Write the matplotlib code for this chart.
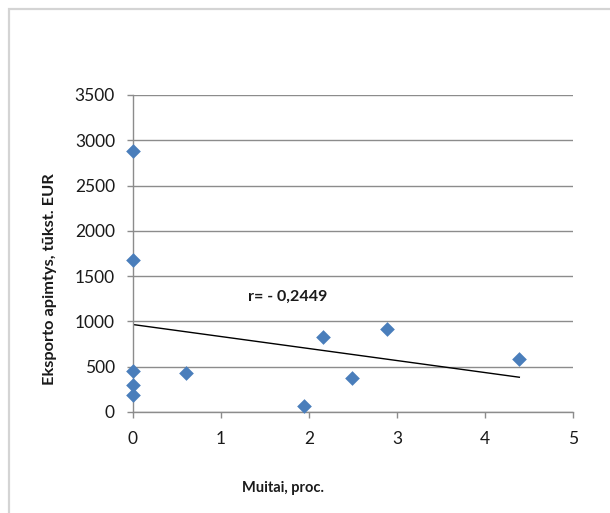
import matplotlib
matplotlib.use("Agg")
import matplotlib.pyplot as plt
from matplotlib.patches import Rectangle
import numpy as np

muitai = [0, 0, 0, 0, 0, 0.6, 1.94, 2.16, 2.49, 2.89, 4.39]
eksportas = [2880, 1680, 450, 300, 190, 433, 70, 829, 373, 914, 585]
x_ticks = [0, 1, 2, 3, 4, 5]
y_ticks = [0, 500, 1000, 1500, 2000, 2500, 3000, 3500]
r_label = "r= - 0,2449"

plt.rcParams['font.family'] = ['Lato', 'DejaVu Sans']
W, H = 610, 513
fig = plt.figure(figsize=(W / 100, H / 100), dpi=100)
fig.patch.set_facecolor('white')

# outer chart border
fig.patches.append(Rectangle((9 / W, -0.05), 1.2, 1 - 9 / H + 0.05, transform=fig.transFigure,
                             fill=False, edgecolor='#d4d4d4', linewidth=1.6, zorder=0))

ax = fig.add_axes([133 / W, 1 - 412 / H, (573 - 133) / W, (412 - 95) / H])
ax.set_xlim(0, 5)
ax.set_ylim(0, 3500)
ax.set_xticks(x_ticks)
ax.set_yticks(y_ticks)
ax.set_yticklabels([str(v) for v in y_ticks])
ax.grid(axis='y', color='#8c8c8c', linewidth=1.0)
ax.set_axisbelow(True)
for s in ['top', 'right']:
    ax.spines[s].set_visible(False)
for s in ['left', 'bottom']:
    ax.spines[s].set_color('#8c8c8c')
    ax.spines[s].set_linewidth(1.0)
ax.tick_params(axis='both', colors='#8c8c8c', length=4, width=1, labelsize=12.5,
               labelcolor='#1a1a1a', direction='out')
ax.tick_params(axis='x', pad=10)
ax.tick_params(axis='y', pad=9)

ax.scatter(muitai, eksportas, marker='D', s=56, color='#4a7ebb', zorder=3, clip_on=False,
           linewidths=0)

coef = np.polyfit(muitai, eksportas, 1)
xl = np.array([min(muitai), max(muitai)])
ax.plot(xl, np.polyval(coef, xl), color='black', linewidth=1.0, zorder=2)

ax.text(1.31, 1270, r_label, fontsize=11.5, fontweight='bold', ha='left', va='center', color='#1a1a1a')

fig.text(283 / W, 1 - 488 / H, "Muitai, proc.", fontsize=10.5, fontweight='bold', ha='center', va='center',
         color='#1a1a1a')
fig.text(50 / W, 1 - 279 / H, "Eksporto apimtys, tūkst. EUR", fontsize=11.8, fontweight='bold',
         rotation=90, ha='center', va='center', color='#1a1a1a')

fig.savefig("out.png", dpi=100)
